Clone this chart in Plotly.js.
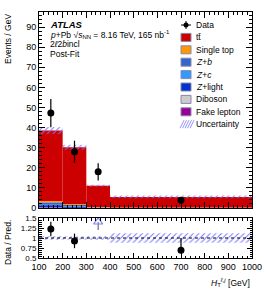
<!DOCTYPE html>
<html><head><meta charset="utf-8">
<script src="https://cdn.plot.ly/plotly-3.0.1.min.js"></script>
<style>html,body{margin:0;padding:0;background:#fff}#c{width:266px;height:289px}</style>
</head><body><div id="c"></div>
<script>
// ---- data (Events / GeV) ----
const binEdges = [100, 200, 300, 400, 1000];
const ttbar     = [35.0, 28.2, 10.6, 5.30];
const singleTop = [0.70, 0.50, 0.15, 0.05];
const zb        = [1.20, 0.70, 0.10, 0.03];
const zc        = [0.20, 0.10, 0.03, 0.01];
const zlight    = [1.00, 0.60, 0.10, 0.05];
const diboson   = [0.10, 0.05, 0.02, 0.02];
const fake      = [0.30, 0.05, 0.10, 0.04];
const relUnc    = [0.045, 0.04, 0.045, 0.12];
const dataY     = [47.2, 28.0, 18.0, 3.8];
const dataErrUp = [7.0, 5.5, 4.3, 1.7];
const dataErrDn = [7.0, 5.5, 4.3, 0.3];
const xTicks    = [100, 200, 300, 400, 500, 600, 700, 800, 900, 1000];
const ratioTicks = [0.5, 0.75, 1, 1.25, 1.5];

// ---- derived ----
const centers = binEdges.slice(0, -1).map((e, i) => (e + binEdges[i + 1]) / 2);
const widths = binEdges.slice(0, -1).map((e, i) => binEdges[i + 1] - e);
const comps = [
  {name: 'Fake lepton', y: fake, color: '#990099'},
  {name: 'Diboson', y: diboson, color: '#cccccc'},
  {name: 'Z+light', y: zlight, color: '#0033cc'},
  {name: 'Z+c', y: zc, color: '#3399ff'},
  {name: 'Z+b', y: zb, color: '#3366cc'},
  {name: 'Single top', y: singleTop, color: '#ff9900'},
  {name: 'tt', y: ttbar, color: '#cc0000'}
];
const traces = [];
let cum = centers.map(() => 0);
comps.forEach(c => {
  traces.push({type: 'bar', x: centers, y: c.y, base: cum.slice(), width: widths,
    marker: {color: c.color, line: {width: 0}}, xaxis: 'x', yaxis: 'y', hoverinfo: 'skip'});
  cum = cum.map((v, i) => v + c.y[i]);
});
const total = cum;
const hatchCol = '#7777ff';
// uncertainty band main
traces.push({type: 'bar', x: centers, width: widths,
  y: total.map((t, i) => 2 * t * relUnc[i]), base: total.map((t, i) => t * (1 - relUnc[i])),
  marker: {color: 'rgba(0,0,0,0)', line: {width: 0},
    pattern: {shape: '/', fgcolor: hatchCol, bgcolor: 'rgba(0,0,0,0)', size: 4, solidity: 0.25}},
  xaxis: 'x', yaxis: 'y'});
// data main
traces.push({type: 'scatter', mode: 'markers', x: centers, y: dataY,
  marker: {color: 'black', size: 7},
  error_y: {type: 'data', symmetric: false, array: dataErrUp, arrayminus: dataErrDn, color: 'black', thickness: 1.2, width: 0},
  xaxis: 'x', yaxis: 'y'});
// ratio band
traces.push({type: 'bar', x: centers, width: widths,
  y: relUnc.map(r => 2 * r), base: relUnc.map(r => 1 - r),
  marker: {color: 'rgba(0,0,0,0)', line: {width: 0},
    pattern: {shape: '/', fgcolor: hatchCol, bgcolor: 'rgba(0,0,0,0)', size: 4, solidity: 0.25}},
  xaxis: 'x2', yaxis: 'y2'});
// ratio points
const ratio = dataY.map((d, i) => d / total[i]);
const inR = ratio.map(r => r <= 1.5);
const totIn = total.filter((t, i) => inR[i]);
traces.push({type: 'scatter', mode: 'markers',
  x: centers.filter((c, i) => inR[i]), y: ratio.filter((r, i) => inR[i]),
  marker: {color: 'black', size: 7},
  error_y: {type: 'data', symmetric: false,
    array: dataErrUp.filter((e, i) => inR[i]).map((e, k) => e / totIn[k]),
    arrayminus: dataErrDn.filter((e, i) => inR[i]).map((e, k) => e / totIn[k]),
    color: 'black', thickness: 1.2, width: 0},
  xaxis: 'x2', yaxis: 'y2'});
// out-of-range arrows
const outX = centers.filter((c, i) => !inR[i]);
traces.push({type: 'scatter', mode: 'markers', x: outX, y: outX.map(() => 1.4),
  marker: {symbol: 'triangle-up-open', color: '#7f7fff', size: 8, line: {width: 1.2}},
  error_y: {type: 'data', symmetric: false, array: outX.map(() => 0), arrayminus: outX.map(() => 0.2), color: '#555', thickness: 1, width: 0},
  xaxis: 'x2', yaxis: 'y2'});

// ---- layout helpers (pixel -> paper) ----
const L = 39, R = 252, T = 12, B = 258;
const px = x => (x - L) / (R - L);
const py = y => (B - y) / (B - T);
const font = {family: 'Liberation Sans, Arial, sans-serif', size: 9, color: 'black'};

const ann = [];
const shapes = [];
function txt(x, y, text, opts) {
  ann.push(Object.assign({xref: 'paper', yref: 'paper', x: px(x), y: py(y), text: text,
    showarrow: false, xanchor: 'left', yanchor: 'middle', font: font}, opts || {}));
}
txt(48, 24, '<b><i>ATLAS</i></b>', {font: Object.assign({}, font, {size: 9.5})});
txt(48, 34.5, '<i>p</i>+Pb √<i>s</i><sub>NN</sub> = 8.16 TeV, 165 nb<sup>-1</sup>', {font: Object.assign({}, font, {size: 8.5})});
txt(48, 44.5, '2<i>ℓ</i>2<i>b</i>incl', {font: Object.assign({}, font, {size: 8.5})});
txt(48, 54, 'Post-Fit', {font: Object.assign({}, font, {size: 8.5})});
// axis titles
txt(8, 12, 'Events / GeV', {textangle: -90, xanchor: 'center', yanchor: 'top', font: Object.assign({}, font, {size: 8.5})});
txt(8, 243, 'Data / Pred.', {textangle: -90, xanchor: 'center', yanchor: 'middle', font: Object.assign({}, font, {size: 8.5})});
txt(252, 282, '<i>H</i><sub>T</sub><sup><i>ℓ,j</i></sup> [GeV]', {xanchor: 'right', font: Object.assign({}, font, {size: 8.5})});

// legend
const legItems = [
  {name: 'Data', kind: 'data'},
  {name: 'tt̄', color: '#cc0000'},
  {name: 'Single top', color: '#ff9900'},
  {name: '<i>Z</i>+<i>b</i>', color: '#3366cc'},
  {name: '<i>Z</i>+<i>c</i>', color: '#3399ff'},
  {name: '<i>Z</i>+light', color: '#0033cc'},
  {name: 'Diboson', color: '#cccccc'},
  {name: 'Fake lepton', color: '#990099'},
  {name: 'Uncertainty', kind: 'hatch'}
];
legItems.forEach((it, k) => {
  const yc = 25 + k * 12.4;
  txt(194, yc, it.name, {font: Object.assign({}, font, {size: 8.5})});
  if (it.kind === 'data') {
    shapes.push({type: 'line', xref: 'paper', yref: 'paper', x0: px(181), x1: px(191), y0: py(yc), y1: py(yc), line: {color: 'black', width: 1}});
    shapes.push({type: 'line', xref: 'paper', yref: 'paper', x0: px(186), x1: px(186), y0: py(yc - 4), y1: py(yc + 4), line: {color: 'black', width: 1}});
    shapes.push({type: 'circle', xref: 'paper', yref: 'paper', x0: px(183.5), x1: px(188.5), y0: py(yc - 2.5), y1: py(yc + 2.5), fillcolor: 'black', line: {color: 'black', width: 0}});
  } else if (it.kind === 'hatch') {
    for (let j = 0; j < 5; j++) {
      const x0 = 181 + j * 2.5;
      shapes.push({type: 'line', xref: 'paper', yref: 'paper', x0: px(x0 - 1), x1: px(x0 + 3), y0: py(yc + 4), y1: py(yc - 4), line: {color: hatchCol, width: 0.8}});
    }
  } else {
    shapes.push({type: 'rect', xref: 'paper', yref: 'paper', x0: px(181), x1: px(191), y0: py(yc + 4), y1: py(yc - 4), fillcolor: it.color, line: {color: '#8888aa', width: 1}});
  }
});
// ratio reference line
shapes.push({type: 'line', xref: 'x2', yref: 'y2', x0: binEdges[0], x1: binEdges[binEdges.length - 1], y0: 1, y1: 1, line: {color: 'black', width: 1, dash: 'dot'}});

const axCommon = {showline: true, linecolor: 'black', linewidth: 1, mirror: 'allticks', ticks: 'inside',
  tickcolor: 'black', tickwidth: 1, showgrid: false, zeroline: false, tickfont: font};
const layout = {
  width: 266, height: 289, margin: {l: L, r: 266 - R, t: T, b: 289 - B},
  paper_bgcolor: 'white', plot_bgcolor: 'white', showlegend: false, barmode: 'overlay',
  font: font,
  xaxis: Object.assign({}, axCommon, {domain: [0, 1], range: [100, 1000], tickvals: xTicks, showticklabels: false,
    ticklen: 6, minor: {dtick: 20, ticklen: 3, ticks: 'inside', tickcolor: 'black', showgrid: false}, anchor: 'y'}),
  yaxis: Object.assign({}, axCommon, {domain: [py(208), 1], range: [0, 97.5], dtick: 10, ticklen: 6,
    minor: {dtick: 2, ticklen: 3, ticks: 'inside', tickcolor: 'black', showgrid: false}, anchor: 'x'}),
  xaxis2: Object.assign({}, axCommon, {domain: [0, 1], range: [100, 1000], tickvals: xTicks, ticktext: xTicks.map(String),
    ticklen: 5, minor: {dtick: 20, ticklen: 2.5, ticks: 'inside', tickcolor: 'black', showgrid: false}, anchor: 'y2'}),
  yaxis2: Object.assign({}, axCommon, {domain: [0, py(218)], range: [0.5, 1.5], tickvals: ratioTicks, ticktext: ratioTicks.map(String),
    tickfont: Object.assign({}, font, {size: 8}),
    ticklen: 5, minor: {dtick: 0.05, ticklen: 2.5, ticks: 'inside', tickcolor: 'black', showgrid: false}, anchor: 'x2'}),
  annotations: ann, shapes: shapes
};
Plotly.newPlot('c', traces, layout, {staticPlot: true, displayModeBar: false});
</script></body></html>
